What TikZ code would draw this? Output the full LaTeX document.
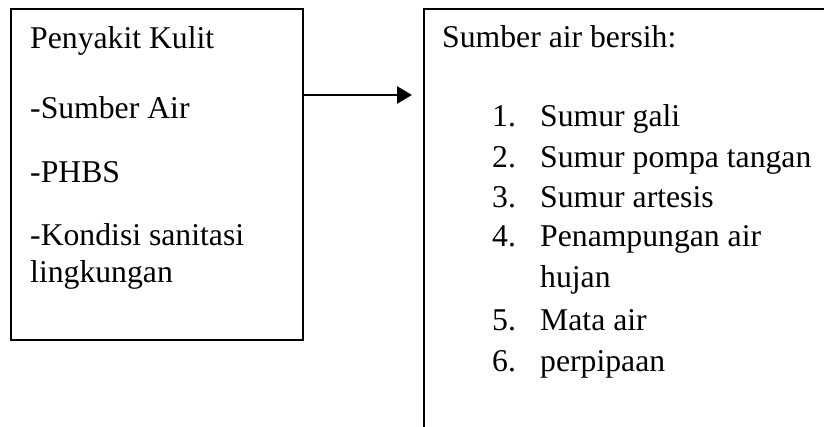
\documentclass[tikz,border=0pt]{standalone}
\usepackage{fontspec}
\setmainfont{Liberation Serif}
\usetikzlibrary{arrows.meta}
\begin{document}
\begin{tikzpicture}[x=1pt,y=-1pt,
  boxframe/.style={draw=black,line width=1.8pt,rectangle,inner sep=0pt,anchor=north west},
  txt/.style={anchor=base west,inner sep=0pt,font=\fontsize{31.7}{38}\selectfont},
  arr/.style={line width=2.6pt,-{Triangle[length=15pt,width=17pt]}}]
\useasboundingbox (0,0) rectangle (824,426);
\clip (0,0) rectangle (824,426);
\fill[white] (0,0) rectangle (824,426);
% boxes
\node[boxframe,minimum width=292pt,minimum height=331pt] (left) at (10,8) {};
\node[boxframe,minimum width=460pt,minimum height=480pt] (right) at (423,8) {};
% left texts
\node[txt] (l1) at (30,48) {Penyakit Kulit};
\node[txt] (l2) at (30,118) {-Sumber Air};
\node[txt] (l3) at (30,182) {-PHBS};
\node[txt] (l4) at (30,245) {-Kondisi sanitasi};
\node[txt] (l5) at (30,282) {lingkungan};
% right texts
\node[txt] (r0) at (442,47) {Sumber air bersih:};
\node[txt] (n1) at (492,126) {1.};
\node[txt] (t1) at (540,126) {Sumur gali};
\node[txt] (n2) at (492,167) {2.};
\node[txt] (t2) at (540,167) {Sumur pompa tangan};
\node[txt] (n3) at (492,207) {3.};
\node[txt] (t3) at (540,207) {Sumur artesis};
\node[txt] (n4) at (492,246) {4.};
\node[txt] (t4) at (540,246) {Penampungan air};
\node[txt] (t4b) at (540,287) {hujan};
\node[txt] (n5) at (492,330) {5.};
\node[txt] (t5) at (540,330) {Mata air};
\node[txt] (n6) at (492,371) {6.};
\node[txt] (t6) at (540,371) {perpipaan};
% arrow
\coordinate (ay) at (0,95);
\draw[arr] (left.east |- ay) -- ([xshift=-11pt]right.west |- ay);
\end{tikzpicture}
\end{document}
